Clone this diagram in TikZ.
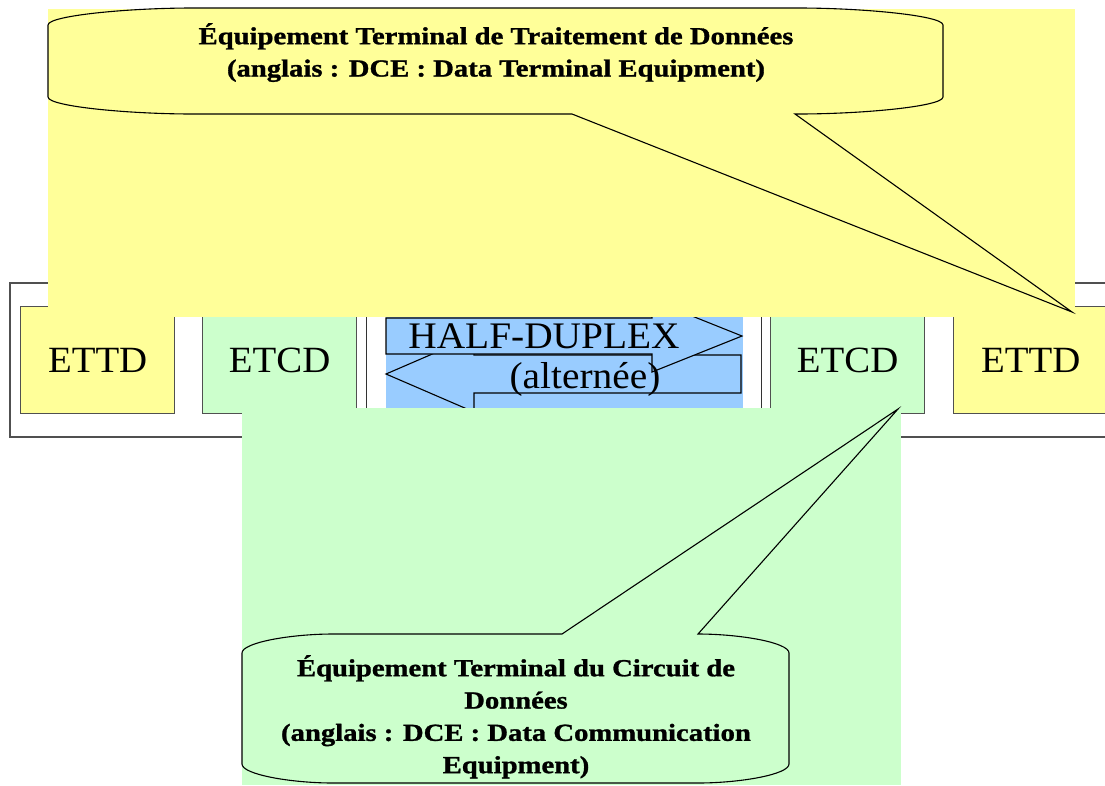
\documentclass[tikz,border=0pt]{standalone}
\usepackage{fontspec}
\setmainfont{Liberation Serif}
\newfontfamily\boxfont{Liberation Serif}[FakeStretch=1.05]
\newfontfamily\callfont{Liberation Serif}[FakeStretch=1.17,FakeBold=1.2]
\definecolor{yel}{HTML}{FFFF99}
\definecolor{grn}{HTML}{CCFFCC}
\definecolor{blu}{HTML}{99CCFF}
\definecolor{framegray}{HTML}{505050}
\tikzset{
  frameline/.style={draw=framegray, line width=1.3pt},
  unitbox/.style={draw=framegray, line width=1.3pt, minimum width=154pt, minimum height=107pt,
    inner sep=0pt, anchor=north west, font=\boxfont\fontsize{37}{40}\selectfont},
  chanline/.style={draw=black!80, line width=1pt},
  arrowshape/.style={draw=black, fill=blu, line width=1.1pt, line join=miter},
  bigtext/.style={inner sep=0pt, anchor=base, font=\boxfont\fontsize{37.5}{40}\selectfont},
  callout/.style={draw=black, line width=1.1pt},
  calltext/.style={inner sep=0pt, anchor=north, align=center,
    font=\callfont\bfseries\fontsize{24.5}{32.3}\selectfont}
}
\begin{document}
\begin{tikzpicture}[x=1pt,y=-1pt]
\useasboundingbox (0,0) rectangle (1105,785);
\begin{scope}
\clip (0,0) rectangle (1105,785);
\fill[white] (0,0) rectangle (1105,785);
% outer frame
\draw[frameline] (10,283) rectangle (1117,437);
% units
\node[unitbox, fill=yel] (ettdL) at (20,306) {ETTD};
\node[unitbox, fill=grn] (etcdL) at (202,306) {ETCD};
\node[unitbox, fill=grn] (etcdR) at (770,306) {ETCD};
\node[unitbox, fill=yel] (ettdR) at (953,306) {ETTD};
% channel
\draw[chanline] (366,290) rectangle (761,425);
\fill[blu] (386,300) rectangle (743,420);
% arrows
\draw[arrowshape] (386,374) -- (474,336) -- (474,355) -- (741,355) -- (741,393)
  -- (474,393) -- (474,412) -- cycle;
\draw[arrowshape] (742,336) -- (652,300) -- (652,318) -- (386,318) -- (386,354)
  -- (652,354) -- (652,372) -- cycle;
\node[bigtext] (hd) at (544,348) {HALF-DUPLEX};
\node[bigtext] (alt) at (585,388) {(alternée)};
% top callout
\fill[yel] (48,9) rectangle (1075,317);
\draw[callout, fill=yel] (48,25) .. controls (48,15.6) and (128,8) .. (193,8)
  -- (798,8) .. controls (863,8) and (943,15.6) .. (943,25)
  -- (943,97) .. controls (943,106.4) and (863,114) .. (798,114)
  -- (795,114) -- (1072,312) -- (572,114) -- (193,114)
  .. controls (128,114) and (48,106.4) .. (48,97) -- cycle;
\node[calltext] (dte) at (496,23) {Équipement Terminal de Traitement de Données\\(anglais : DCE : Data Terminal Equipment)};
% bottom callout
\fill[grn] (242,408) rectangle (901,785);
\draw[callout, fill=grn] (242,653) .. controls (242,642.5) and (291,634) .. (333,634)
  -- (562,634) -- (898,409) -- (698,634)
  .. controls (740,634) and (789,642.5) .. (789,653)
  -- (789,764) .. controls (789,774.5) and (740,783) .. (698,783)
  -- (333,783) .. controls (291,783) and (242,774.5) .. (242,764) -- cycle;
\node[calltext] (dce) at (516,655) {Équipement Terminal du Circuit de\\Données\\(anglais : DCE : Data Communication\\Equipment)};
\end{scope}
\end{tikzpicture}
\end{document}
